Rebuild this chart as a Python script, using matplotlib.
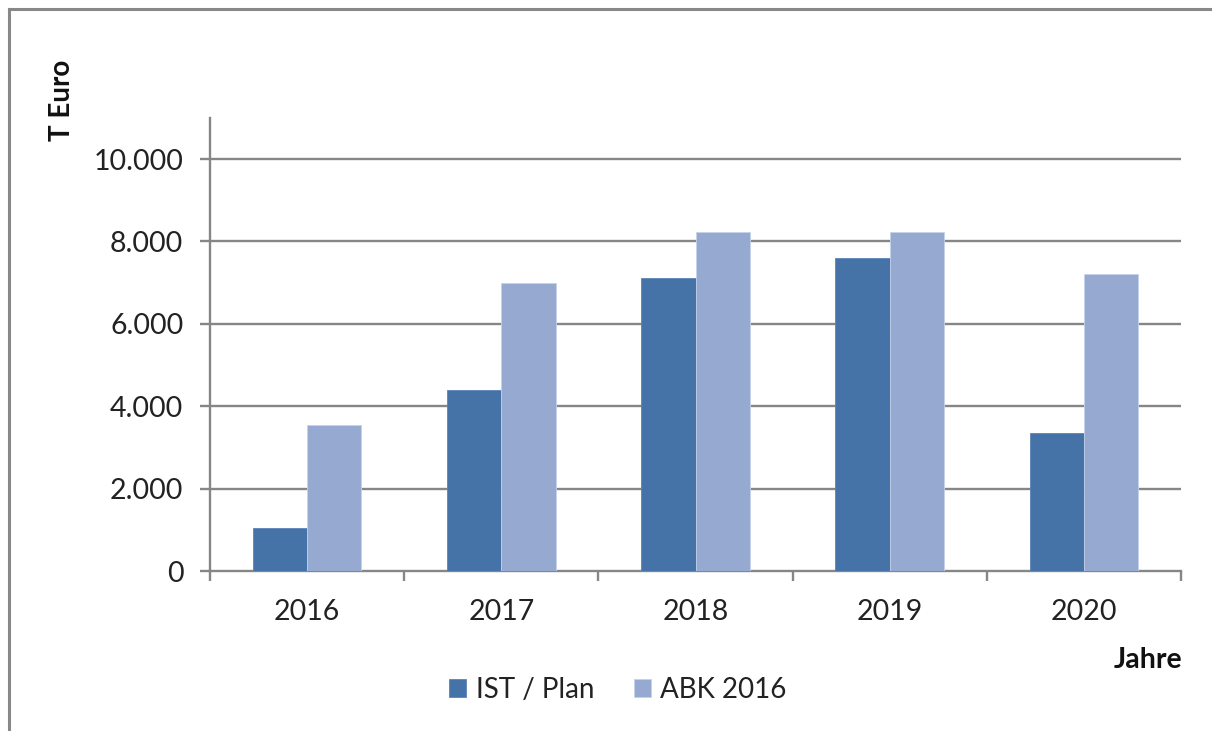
import matplotlib
matplotlib.use("Agg")
import matplotlib.pyplot as plt
from matplotlib.lines import Line2D
import numpy as np

years = ["2016", "2017", "2018", "2019", "2020"]
ist_plan = [1050, 4400, 7100, 7600, 3350]
abk_2016 = [3550, 7000, 8220, 8220, 7200]
yticks = [0, 2000, 4000, 6000, 8000, 10000]
ytick_labels = ["0", "2.000", "4.000", "6.000", "8.000", "10.000"]

plt.rcParams['font.family'] = ['Lato', 'DejaVu Sans']

W, H = 1212, 731
fig = plt.figure(figsize=(W / 100, H / 100), dpi=100)
ax = fig.add_axes([210 / W, 1 - 571 / H, (1181 - 210) / W, (571 - 117.8) / H])

x = np.arange(len(years))
bw = 0.28
c1 = "#4572A7"
c2 = "#95A9D1"
ax.bar(x - bw / 2, ist_plan, bw, color=c1, edgecolor="#5a84b8", linewidth=0.6, label="IST / Plan", zorder=3)
ax.bar(x + bw / 2, abk_2016, bw, color=c2, edgecolor="#c5d2ea", linewidth=0.6, label="ABK 2016", zorder=3)

ax.set_xlim(-0.5, len(years) - 0.5)
ax.set_ylim(0, 11000)
ax.set_yticks(yticks)
ax.set_yticklabels(ytick_labels)
ax.set_xticks(x)
ax.set_xticklabels(years)
ax.set_xticks(np.arange(-0.5, len(years)), minor=True)

grid_c = "#868686"
for y in yticks[1:]:
    ax.axhline(y, color=grid_c, linewidth=1.7, zorder=1)

for s in ["top", "right"]:
    ax.spines[s].set_visible(False)
for s in ["left", "bottom"]:
    ax.spines[s].set_color(grid_c)
    ax.spines[s].set_linewidth(1.7)

ax.tick_params(axis="y", which="major", length=7.2, width=1.7, color=grid_c,
               labelsize=20.5, labelcolor="#222222", pad=12)
ax.tick_params(axis="x", which="major", length=0, labelsize=20.5, labelcolor="#222222", pad=20)
ax.tick_params(axis="x", which="minor", length=7.2, width=1.7, color=grid_c)

fig.text(62 / W, 1 - 100 / H, "T Euro", rotation=90, ha="center", va="center",
         fontsize=20, fontweight="bold", color="#111111")
fig.text(1182 / W, 1 - 660 / H, "Jahre", ha="right", va="center",
         fontsize=20.5, fontweight="bold", color="#111111")

leg = fig.legend(loc="center", bbox_to_anchor=(618 / W, 1 - 690 / H), ncol=2, frameon=False,
                 fontsize=20, handlelength=0.62, handleheight=0.62, handletextpad=0.35,
                 columnspacing=1.4, borderaxespad=0)
for t in leg.get_texts():
    t.set_color("#222222")

fig.add_artist(Line2D([9 / W, 9 / W], [0, 1 - 9 / H], color="#888888", linewidth=2.2,
                      transform=fig.transFigure))
fig.add_artist(Line2D([9 / W, 1], [1 - 9 / H, 1 - 9 / H], color="#888888", linewidth=2.2,
                      transform=fig.transFigure))

fig.savefig("out.png", dpi=100)
